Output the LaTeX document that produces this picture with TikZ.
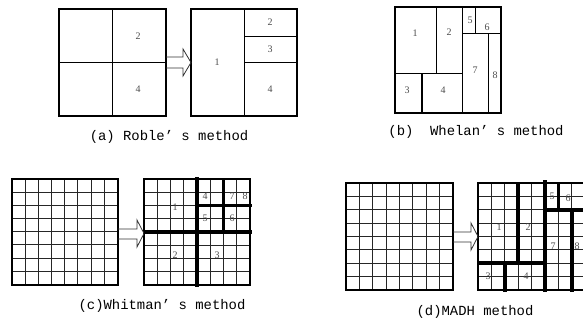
\documentclass[tikz,border=0pt]{standalone}
\usepackage{fontspec}
\setmainfont{Liberation Serif}
\setmonofont{Liberation Mono}
\tikzset{
  frame/.style={line width=2pt},
  part/.style={line width=1pt},
  gridline/.style={line width=1pt, black!85},
  cut/.style={line width=3.5pt},
  blockarrow/.style={line width=0.8pt, black!80, line join=miter},
  num/.style={font=\fontsize{10}{12}\selectfont, text=black!70},
  caption/.style={font=\fontsize{13.9}{15}\selectfont\ttfamily}
}
\begin{document}
\begin{tikzpicture}[x=1pt,y=-1pt]
    \clip (0,0) rectangle (583,322);
    % (a) Roble
    \draw[frame] (59,9) rectangle (166,116);
    \draw[part] (112.5,9) -- (112.5,116) (59,62.5) -- (166,62.5);
    \draw[frame] (191,9) rectangle (297,116);
    \draw[part] (244,9) -- (244,116) (244,36) -- (297,36) (244,62.5) -- (297,62.5);
    \draw[blockarrow] (166,57) -- (183,57) -- (183,49) -- (191,62.5) -- (183,76) -- (183,68) -- (166,68);
    \node[num] (a2) at (138,36) {2};
    \node[num] (a4) at (138,89) {4};
    \node[num] (b1) at (217,62) {1};
    \node[num] (b2) at (270,22) {2};
    \node[num] (b3) at (270,49) {3};
    \node[num] (b4) at (270,89) {4};
    \node[caption] (capa) at (169,137) {(a) Roble’ s method};
    % (b) Whelan
    \draw[frame] (395,7) rectangle (501,113);
    \draw[part] (436,7) -- (436,73) (395,73) -- (462,73) (462,7) -- (462,113)
        (462,33) -- (501,33) (475,7) -- (475,33) (488,33) -- (488,113);
    \draw[line width=1.8pt] (422,73) -- (422,113);
    \node[num] (w1) at (415,33) {1};
    \node[num] (w2) at (449,32) {2};
    \node[num] (w3) at (407,90) {3};
    \node[num] (w4) at (443,90) {4};
    \node[num] (w5) at (470,20) {5};
    \node[num] (w6) at (487,27) {6};
    \node[num] (w7) at (475,70) {7};
    \node[num] (w8) at (495,75) {8};
    \node[caption] (capb) at (476,132) {(b)\ \ Whelan’ s method};
    % 8x8 grids
    \foreach \x/\y/\s in {12/179/105.5, 144/179/106, 346/183/107, 478/183/107}{
      \foreach \k in {1,...,7}{
        \draw[gridline] (\x+\k*\s/8,\y) -- ++(0,\s);
        \draw[gridline] (\x,\y+\k*\s/8) -- ++(\s,0);
      }
      \draw[frame] (\x,\y) rectangle ++(\s,\s);
    }
    % (c) Whitman
    \draw[blockarrow] (117.5,229) -- (137,229) -- (137,220) -- (144,233.5) -- (137,247) -- (137,239) -- (117.5,239);
    \draw[cut] (197,177) -- (197,287) (144,232) -- (252,232)
        (223.5,179) -- (223.5,232) (197,205.5) -- (252,205.5);
    \node[num] (c1) at (175,207) {1};
    \node[num] (c2) at (175,255) {2};
    \node[num] (c3) at (217,255) {3};
    \node[num] (c4) at (205,196) {4};
    \node[num] (c5) at (205,218) {5};
    \node[num] (c6) at (232,218) {6};
    \node[num] (c7) at (232,196) {7};
    \node[num] (c8) at (245,196) {8};
    \node[caption] (capc) at (162,306) {(c)Whitman’ s method};
    % (d) MADH
    \draw[blockarrow] (453,232) -- (471,232) -- (471,223) -- (478,236.5) -- (471,250) -- (471,242) -- (453,242);
    \draw[cut] (518,183) -- (518,263) (478,263) -- (545,263) (504.8,263) -- (504.8,292)
        (545,180) -- (545,292) (558.4,183) -- (558.4,209.8) (545,209.8) -- (585,209.8)
        (571.8,209.8) -- (571.8,292);
    \node[num] (d1) at (499,227) {1};
    \node[num] (d2) at (528,227) {2};
    \node[num] (d3) at (488,276) {3};
    \node[num] (d4) at (526,276) {4};
    \node[num] (d5) at (552,196) {5};
    \node[num] (d6) at (568,198) {6};
    \node[num] (d7) at (553,246) {7};
    \node[num] (d8) at (577,246) {8};
    \node[caption] (capd) at (475,312) {(d)MADH method};
\end{tikzpicture}
\end{document}
